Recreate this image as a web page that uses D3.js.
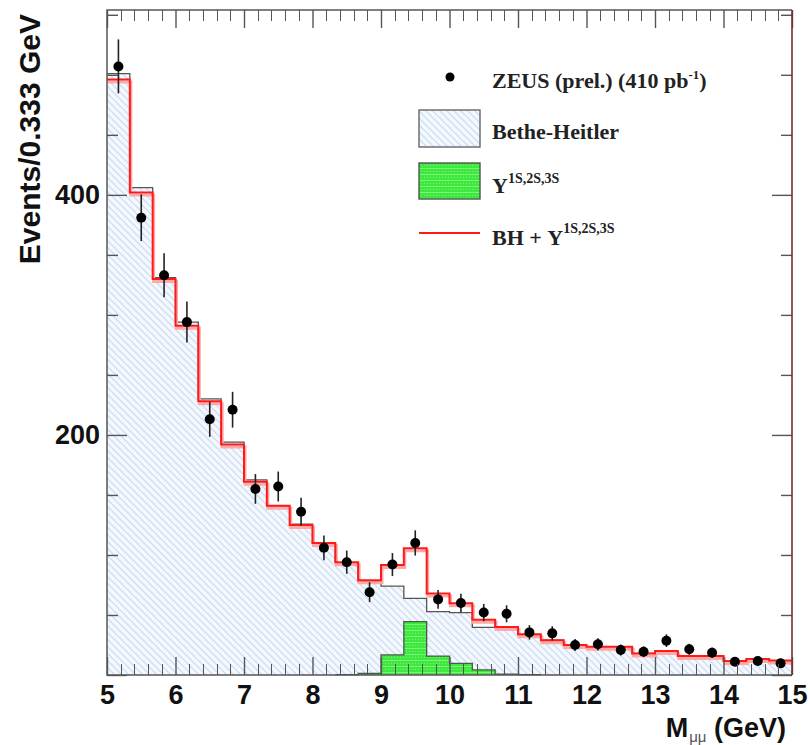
<!DOCTYPE html>
<html>
<head>
<meta charset="utf-8">
<script src="https://cdn.jsdelivr.net/npm/d3@7"></script>
<style>
  body { margin: 0; background: #ffffff; }
  svg { display: block; }
</style>
</head>
<body>
<svg id="chart" width="810" height="745"></svg>
<script>
// ---------------------------------------------------------------
// Data (30 bins of 0.333 GeV from 5 to 15 GeV)
// ---------------------------------------------------------------
const bin_width = 1 / 3;
const bin_lo = d3.range(30).map(i => 5 + i * bin_width);

// ZEUS data points and their errors
const data_counts = [507, 381, 333, 294, 213, 221, 155, 157, 136, 106,
                     94, 69, 92, 110, 63, 60, 52, 51, 35.5, 34.7,
                     25, 25.6, 20.8, 19.4, 28.6, 21.4, 18.6, 11.1, 11.7, 9.7];
const data_errors = [22.5, 19.5, 18.3, 17.1, 14.6, 14.9, 12.4, 12.5, 11.7, 10.3,
                     9.7, 8.3, 9.6, 10.5, 7.9, 7.7, 7.2, 7.1, 6.0, 5.9,
                     5.0, 5.1, 4.6, 4.4, 5.3, 4.6, 4.3, 3.3, 3.4, 3.1];

// Bethe-Heitler histogram
const bh_counts = [501, 406, 331, 294, 230, 194, 162.5, 141, 125.6, 109.7,
                   93.6, 77.5, 74, 63.9, 52.8, 52, 39.7, 39.5, 33.4, 29,
                   25, 23.6, 23.6, 18, 20, 15.8, 15.8, 11.7, 13.3, 12];

// Upsilon(1S,2S,3S) histogram
const ups_counts = [0, 0, 0, 0, 0, 0, 0, 0, 0, 0,
                    0.3, 1.4, 16.7, 44.4, 15.8, 9.7, 4.2, 0.8, 0.3, 0,
                    0, 0, 0, 0, 0, 0, 0, 0, 0, 0];

// BH + Upsilon (red line)
const sum_counts = [496, 402, 330, 291, 228, 192, 161, 141, 125, 110,
                    94, 79, 91.7, 105.6, 68, 59.7, 46, 40, 33.9, 29,
                    25, 23.6, 23.6, 18, 20, 15.8, 15.8, 11.7, 13.3, 12];

const x_major_ticks = [5, 6, 7, 8, 9, 10, 11, 12, 13, 14, 15];
const y_major_ticks = [0, 200, 400];
const y_labels = ["", "200", "400"];

const legend_items = ["ZEUS (prel.) (410 pb", "Bethe-Heitler", "\u03A5", "BH + \u03A5"];

// ---------------------------------------------------------------
// Layout
// ---------------------------------------------------------------
const plot_left = 107, plot_right = 792, plot_top = 10, plot_bottom = 675;
const frame_color = "#555555";

const svg = d3.select("#chart");

const x = d3.scaleLinear().domain([5, 15]).range([plot_left, plot_right]);
const y = d3.scaleLinear().domain([0, 554]).range([plot_bottom, plot_top]);

// Patterns for the hatched Bethe-Heitler fill and the textured green fill
const defs = svg.append("defs");

const hatch = defs.append("pattern")
    .attr("id", "hatch")
    .attr("patternUnits", "userSpaceOnUse")
    .attr("width", 7)
    .attr("height", 7);
hatch.append("rect").attr("width", 7).attr("height", 7).attr("fill", "#f4f8fd");
hatch.append("path")
    .attr("d", "M0,0 L7,7 M-2,5 L2,9 M5,-2 L9,2")
    .attr("stroke", "#c4dbf2")
    .attr("stroke-width", 1.1);

const greenPat = defs.append("pattern")
    .attr("id", "greenfill")
    .attr("patternUnits", "userSpaceOnUse")
    .attr("width", 6)
    .attr("height", 6);
greenPat.append("rect").attr("width", 6).attr("height", 6).attr("fill", "#3fe83f");
greenPat.append("path")
    .attr("d", "M0,0.5 H6 M1,3.5 H2 M4,3.5 H5")
    .attr("stroke", "#7af57a")
    .attr("stroke-width", 1);

// Histogram points: one point per bin low edge plus the closing edge
function step_points(values) {
    const pts = values.map((v, i) => [bin_lo[i], v]);
    pts.push([15, values[values.length - 1]]);
    return pts;
}

const step_area = d3.area()
    .curve(d3.curveStepAfter)
    .x(d => x(d[0]))
    .y0(y(0))
    .y1(d => y(d[1]));

const step_line = d3.line()
    .curve(d3.curveStepAfter)
    .x(d => x(d[0]))
    .y(d => y(d[1]));

const plot = svg.append("g");

// Bethe-Heitler hatched histogram
plot.append("path")
    .attr("d", step_area(step_points(bh_counts)))
    .attr("fill", "url(#hatch)");
plot.append("path")
    .attr("d", step_line(step_points(bh_counts)))
    .attr("fill", "none")
    .attr("stroke", "#555555")
    .attr("stroke-width", 1.3);

// Upsilon histogram (only where it is non-zero)
const ups_first = 10, ups_last = 19;
const ups_pts = [];
for (let i = ups_first; i < ups_last; i++) ups_pts.push([bin_lo[i], ups_counts[i]]);
ups_pts.push([bin_lo[ups_last], ups_counts[ups_last - 1]]);
plot.append("path")
    .attr("d", step_area(ups_pts))
    .attr("fill", "url(#greenfill)");
plot.append("path")
    .attr("d", step_line(ups_pts))
    .attr("fill", "none")
    .attr("stroke", "#4a5a4a")
    .attr("stroke-width", 1.3);

// Red BH + Upsilon line with its pale shadow band
plot.append("path")
    .attr("d", step_line(step_points(sum_counts)))
    .attr("fill", "none")
    .attr("stroke", "#ffa8a8")
    .attr("stroke-width", 3)
    .attr("transform", "translate(1,2.5)");
plot.append("path")
    .attr("d", step_line(step_points(sum_counts)))
    .attr("fill", "none")
    .attr("stroke", "#ff1a1a")
    .attr("stroke-width", 2);

// Data points with error bars
const points = plot.selectAll(".point")
    .data(data_counts)
    .enter()
    .append("g")
    .attr("class", "point");

points.append("line")
    .attr("x1", (d, i) => x(bin_lo[i] + bin_width / 2))
    .attr("x2", (d, i) => x(bin_lo[i] + bin_width / 2))
    .attr("y1", (d, i) => y(d - data_errors[i]))
    .attr("y2", (d, i) => y(d + data_errors[i]))
    .attr("stroke", "#222222")
    .attr("stroke-width", 1.6);

points.append("circle")
    .attr("cx", (d, i) => x(bin_lo[i] + bin_width / 2))
    .attr("cy", d => y(d))
    .attr("r", 5)
    .attr("fill", "#000000");

// ---------------------------------------------------------------
// Axes (ticks drawn inwards on all four sides)
// ---------------------------------------------------------------
const x_minor = d3.range(51).map(i => 5 + i * 0.2).filter((v, i) => i % 5 !== 0);
const y_minor = d3.range(0, 554, 50).filter(v => v % 200 !== 0);

function style_axis(g) {
    g.select(".domain").remove();
    g.selectAll("line").attr("stroke", frame_color).attr("stroke-width", 1.4);
    g.selectAll("text")
        .attr("fill", "#111111")
        .style("font-family", "'Liberation Sans', Arial, sans-serif")
        .style("font-weight", "bold")
        .style("font-size", "27px");
}

svg.append("g")
    .attr("transform", `translate(0,${plot_bottom})`)
    .call(d3.axisBottom(x).tickValues(x_major_ticks).tickSize(-18).tickPadding(10).tickFormat(d3.format("d")))
    .call(style_axis);
svg.append("g")
    .attr("transform", `translate(0,${plot_top})`)
    .call(d3.axisTop(x).tickValues(x_major_ticks).tickSize(-18).tickFormat(() => ""))
    .call(style_axis);

// Minor x ticks on bottom and top edges
const x_minor_g = svg.append("g")
    .attr("shape-rendering", "crispEdges");
["bottom", "top"].forEach(side => {
    x_minor_g.selectAll(".xmin-" + side)
        .data(x_minor)
        .enter()
        .append("line")
        .attr("class", "xmin-" + side)
        .attr("x1", d => Math.round(x(d)) + 0.5)
        .attr("x2", d => Math.round(x(d)) + 0.5)
        .attr("y1", side === "bottom" ? plot_bottom : plot_top)
        .attr("y2", side === "bottom" ? plot_bottom - 11 : plot_top + 11)
        .style("stroke", "#555555")
        .style("stroke-width", "1.5px");
});

svg.append("g")
    .attr("transform", `translate(${plot_left},0)`)
    .call(d3.axisLeft(y).tickValues(y_major_ticks).tickSize(-20).tickPadding(7)
        .tickFormat((d, i) => y_labels[i]))
    .call(style_axis);
svg.append("g")
    .attr("transform", `translate(${plot_left},0)`)
    .call(d3.axisLeft(y).tickValues(y_minor).tickSize(-11).tickFormat(() => ""))
    .call(style_axis);
svg.append("g")
    .attr("transform", `translate(${plot_right},0)`)
    .call(d3.axisRight(y).tickValues(y_major_ticks).tickSize(-20).tickFormat(() => ""))
    .call(style_axis);
svg.append("g")
    .attr("transform", `translate(${plot_right},0)`)
    .call(d3.axisRight(y).tickValues(y_minor).tickSize(-11).tickFormat(() => ""))
    .call(style_axis);

// Frame
svg.append("path")
    .attr("d", `M${plot_right},${plot_top} H${plot_left} V${plot_bottom} H${plot_right}`)
    .attr("fill", "none")
    .attr("stroke", frame_color)
    .attr("stroke-width", 1.5);
svg.append("line")
    .attr("x1", plot_right).attr("x2", plot_right)
    .attr("y1", plot_top).attr("y2", plot_bottom)
    .attr("stroke", "#7a2e2e")
    .attr("stroke-width", 1.6);

// Axis titles
svg.append("text")
    .attr("transform", "translate(40,14) rotate(-90)")
    .attr("text-anchor", "end")
    .style("font-family", "'Liberation Sans', Arial, sans-serif")
    .style("font-weight", "bold")
    .style("font-size", "30px")
    .attr("fill", "#111111")
    .text("Events/0.333 GeV");

const x_title = svg.append("text")
    .attr("x", 786)
    .attr("y", 737)
    .attr("text-anchor", "end")
    .style("font-family", "'Liberation Sans', Arial, sans-serif")
    .style("font-weight", "bold")
    .style("font-size", "27px")
    .attr("fill", "#111111");
x_title.append("tspan").text("M");
x_title.append("tspan").attr("dy", 5).attr("dx", 1).style("font-size", "15px").style("font-weight", "normal")
    .attr("fill", "#555555").text("\u03BC\u03BC");
x_title.append("tspan").attr("dy", -5).text(" (GeV)");

// ---------------------------------------------------------------
// Legend
// ---------------------------------------------------------------
const legend = svg.append("g")
    .style("font-family", "'Liberation Serif', 'Times New Roman', serif")
    .style("font-weight", "bold")
    .attr("fill", "#222222");

legend.append("circle").attr("cx", 450).attr("cy", 77).attr("r", 4.5).attr("fill", "#000000");
const t0 = legend.append("text").attr("x", 492).attr("y", 88).style("font-size", "22px");
t0.append("tspan").text(legend_items[0]);
t0.append("tspan").attr("dy", -9).style("font-size", "13px").text("-1");
t0.append("tspan").attr("dy", 9).text(")");

legend.append("rect").attr("x", 419).attr("y", 110).attr("width", 61).attr("height", 37)
    .attr("fill", "url(#hatch)").attr("stroke", "#666666").attr("stroke-width", 1.4);
legend.append("text").attr("x", 492).attr("y", 139).style("font-size", "22px").text(legend_items[1]);

legend.append("rect").attr("x", 419).attr("y", 163).attr("width", 61).attr("height", 36)
    .attr("fill", "url(#greenfill)").attr("stroke", "#4a5a4a").attr("stroke-width", 1.4);
const t2 = legend.append("text").attr("x", 492).attr("y", 193).style("font-size", "22px");
t2.append("tspan").text(legend_items[2]);
t2.append("tspan").attr("dy", -10).style("font-size", "14px").text("1S,2S,3S");

legend.append("line").attr("x1", 419).attr("x2", 480).attr("y1", 233).attr("y2", 233)
    .attr("stroke", "#ff1a1a").attr("stroke-width", 2);
const t3 = legend.append("text").attr("x", 492).attr("y", 245).style("font-size", "22px");
t3.append("tspan").text(legend_items[3]);
t3.append("tspan").attr("dy", -12).style("font-size", "14px").text("1S,2S,3S");
</script>
</body>
</html>
